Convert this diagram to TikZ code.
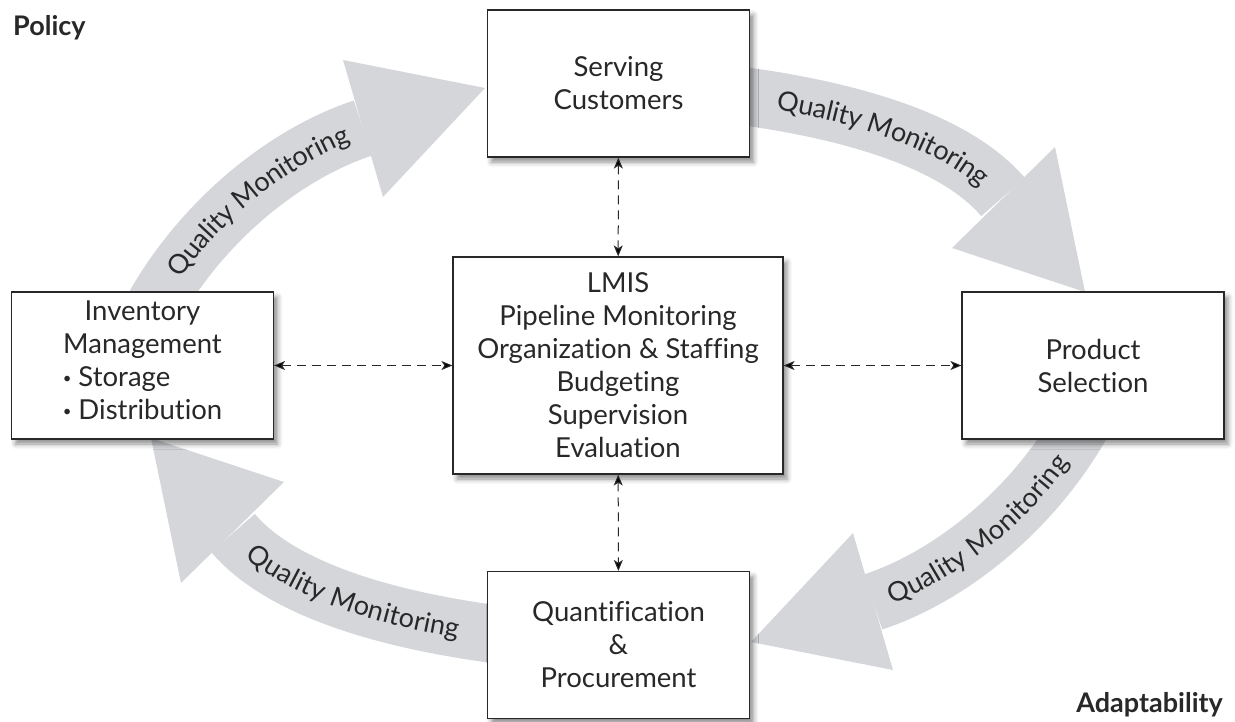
\documentclass[tikz,border=0pt]{standalone}
\usepackage{fontspec}
\setmainfont{Lato}[Ligatures={NoCommon}]
\usetikzlibrary{arrows.meta,decorations.text,shadows.blur}

\definecolor{qmgray}{RGB}{212,214,217}
\definecolor{ink}{RGB}{40,40,40}

\newcommand\boxfont{\fontsize{27.5}{33}\selectfont}
\newcommand\dotitem{\raisebox{3pt}{\fontsize{15}{15}\selectfont\textbullet}\ }

\tikzset{
  box/.style={draw=ink, line width=1.2pt, fill=white, text=ink, align=center,
    minimum width=262pt, minimum height=147pt, inner sep=0pt, font=\boxfont,
    blur shadow={shadow xshift=4pt, shadow yshift=-5pt,
      shadow blur radius=5pt, shadow opacity=45}},
  link/.style={draw=ink, line width=1pt, dash pattern=on 9pt off 6pt,
    {Stealth[length=11pt,width=9pt,inset=3pt]}-{Stealth[length=11pt,width=9pt,inset=3pt]}},
  band/.style={draw=qmgray, line width=58pt},
  head/.style={fill=qmgray},
  qm/.style={decorate, decoration={text along path, text align=center,
    raise=-9pt, text color=ink, text={|\fontsize{27}{27}\selectfont|Quality Monitoring}}},
  corner/.style={inner sep=0pt, text=ink, font=\bfseries\fontsize{27}{27}\selectfont}
}

\begin{document}
\begin{tikzpicture}[x=1pt,y=-1pt]
  \useasboundingbox (0,0) rectangle (1235,721);

  % the four quality monitoring arrows
  \draw[band] (155,305) .. controls (205,218) and (287,153) .. (363,128);
  \fill[head] (343,60) -- (485,88) -- (383,197) -- cycle;
  \draw[band] (735,95) .. controls (835,108) and (951,136) .. (1003,197);
  \fill[head] (1055,147) -- (1085,292) -- (952,248) -- cycle;
  \draw[band] (1081,425) .. controls (1031,512) and (949,577) .. (873,602);
  \fill[head] (893,670) -- (751,642) -- (853,533) -- cycle;
  \draw[band] (501,635) .. controls (401,622) and (285,594) .. (233,533);
  \fill[head] (181,583) -- (151,438) -- (284,482) -- cycle;

  \path[qm] (162,292) .. controls (205,218) and (287,153) .. (368,126);
  \path[qm] (750,97) .. controls (835,108) and (951,136) .. (1006,200);
  \path[qm] (868,604) .. controls (949,577) and (1031,512) .. (1074,439);
  \path[qm] (230,530) .. controls (285,594) and (401,622) .. (487,633);

  \node[box] (serve) at (618.5,83.5) {Serving\\Customers};
  \node[box, minimum width=330pt, minimum height=217pt] (lmis) at (618,365.5)
    {LMIS\\Pipeline Monitoring\\Organization \& Staffing\\Budgeting\\Supervision\\Evaluation};
  \node[box] (inv) at (142.5,365.5)
    {Inventory\\Management\\\begin{tabular}[t]{@{}l@{}}\dotitem Storage\\\dotitem Distribution\end{tabular}};
  \node[box] (prod) at (1093,365.5) {Product\\Selection};
  \node[box] (quant) at (618.5,645) {Quantification\\\&\\Procurement};

  \draw[link] (serve) -- (lmis);
  \draw[link] (lmis) -- (quant);
  \draw[link] (inv) -- (lmis);
  \draw[link] (lmis) -- (prod);

  \node[corner, anchor=base west] (policy) at (13,35) {Policy};
  \node[corner, anchor=base east] (adapt) at (1223,712) {Adaptability};
\end{tikzpicture}
\end{document}
